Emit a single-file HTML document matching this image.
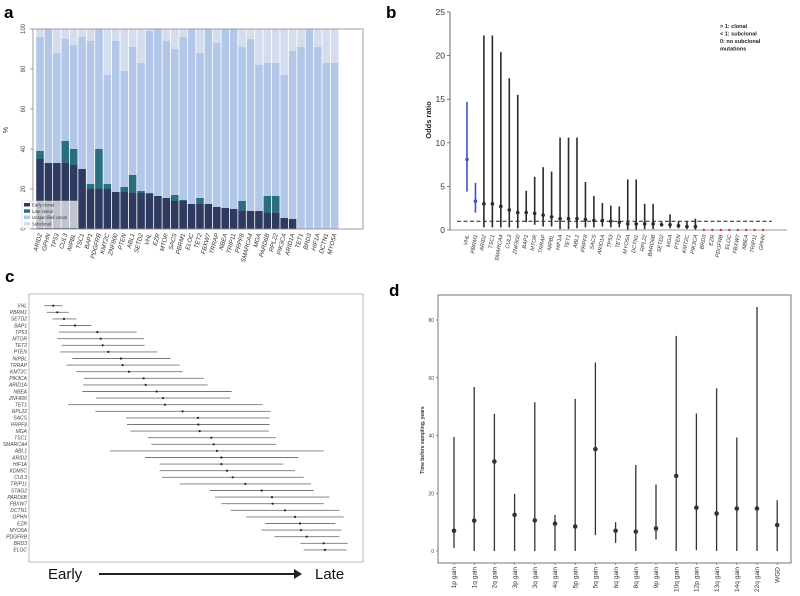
<!DOCTYPE html>
<html><head><meta charset="utf-8"><style>
body{margin:0;background:#fff;}
svg{display:block;font-family:"Liberation Sans",sans-serif;}
</style></head><body>
<svg id="fig" width="800" height="596" viewBox="0 0 800 596" xmlns="http://www.w3.org/2000/svg">
<text x="4" y="18" font-size="17" font-weight="bold">a</text>
<text x="386" y="18" font-size="17" font-weight="bold">b</text>
<text x="5" y="282" font-size="17" font-weight="bold">c</text>
<text x="389" y="296" font-size="17" font-weight="bold">d</text>
<g id="ga"></g>
<g id="gb"></g>
<g id="gc"></g>
<g id="gd"></g>
</svg>
<script>
// ---------- Panel a data ----------
const aGenes=["ARID2","GPHN","TP53","CUL3","NIPBL","TSC1","BAP1","PDGFRB","KMT2C","ZNF800","PTEN","ABL1","SETD2","VHL","EZR","MTOR","SACS","PBRM1","ELOC","TET2","FBXW7","TRRAP","NBEA","TRIP11","PRPF8","SMARCA4","MGA","PARD6B","RPL22","PIK3CA","ARID1A","TET1","BRD3","HIF1A","DCTN1","MYO5A"];
const aEarly=[35,33,33,33,32,30,20,20,20,18.5,18.5,18,18,17.5,16.5,15.5,14,14,12.5,12.5,12.5,11,10.5,10,9,9,9,8,8,5.5,5,0,0,0,0,0];
const aLateTop=[39,33,33,44,40,30,22.5,40,22.5,18.5,21,27,19,18,16.5,15.5,17,14.5,12.5,15.5,12.5,11,10.5,10,14,9,9,16.5,16.5,5.5,5,0,0,0,0,0];
const aUnspecTop=[96,100,88,95,92,96,94,100,77,94,79,91,83,99,100,94,90,96,100,88,100,93,100,100,91,95,82,83,83,77,89,91,100,91,83,83];
const aTicks=[0,20,40,60,80,100];
// ---------- Panel b data ----------
const bGenes=["VHL","PBRM1","ARID2","TSC1","SMARCA4","CUL3","ZNF800","BAP1","MTOR","TRRAP","NIPBL","HIF1A","TET1","ABL1","PRPF8","SACS","ARID1A","TP53","TET2","MYO5A","DCTN1","RPL22","BARD6B","SETD2","MGA","PTEN","KMT2C","PIK3CA","BRD3","EZR","PDGFRB","ELOC","FBXW7","NBEA","TRIP11","GPHN"];
const bOR=[8.1,3.3,3.0,3.0,2.7,2.3,2.0,2.0,1.9,1.7,1.5,1.3,1.3,1.3,1.2,1.1,1.1,1.0,0.9,0.7,0.7,0.7,0.7,0.6,0.6,0.5,0.4,0.4,0,0,0,0,0,0,0,0];
const bLo=[4.4,2.0,0.3,0.3,0.3,0.3,0.2,0.9,0.6,0.4,0.4,0.1,0.1,0.2,0.3,0.3,0.4,0.3,0.3,0.05,0.05,0.1,0.1,0.4,0.2,0.2,0.1,0.05,0,0,0,0,0,0,0,0];
const bHi=[14.7,5.4,22.3,22.3,20.4,17.4,15.5,4.5,6.1,7.2,6.7,10.6,10.6,10.6,5.5,3.9,3.1,2.8,2.7,5.8,5.8,3.0,3.0,0.9,1.8,1.0,1.0,1.3,0,0,0,0,0,0,0,0];
const bTicks=[0,5,10,15,20,25];
// ---------- Panel c data (relative timing units) ----------
const cGenes=["VHL","PBRM1","SETD2","BAP1","TP53","MTOR","TET2","PTEN","NIPBL","TRRAP","KMT2C","PIK3CA","ARID1A","NBEA","ZNF800","TET1","RPL22","SACS","PRPF8","MGA","TSC1","SMARCA4","ABL1","ARID2","HIF1A","KDM5C","CUL3","TRIP11","STAG2","PARD6B","FBXW7","DCTN1","GPHN","EZR","MYO5A","PDGFRB","BRD3","ELOC"];
const cLo=[133,140,157,178,177,172,185,180,217,199,229,252,250,247,288,204,286,378,381,391,444,454,330,435,479,479,486,539,629,645,664,692,739,796,784,823,901,911];
const cMid=[160,172,192,225,292,302,308,325,363,368,387,431,437,470,489,495,548,594,595,599,634,641,651,664,664,681,698,736,785,816,818,855,885,900,903,920,971,975];
const cHi=[187,206,229,274,410,432,434,472,512,539,548,611,623,695,691,788,812,809,809,807,827,829,971,895,850,885,911,933,941,988,971,1018,1031,1006,1025,1018,1043,1040];
// ---------- Panel d data ----------
const dCats=["1p gain","1q gain","2q gain","3p gain","3q gain","4q gain","5p gain","5q gain","6q gain","8q gain","9p gain","10q gain","12p gain","13q gain","14q gain","22q gain","WGD"];
const dMid=[7,10.5,31,12.5,10.6,9.5,8.5,35.3,7,6.7,7.8,26,15,13,14.7,14.7,9];
const dLo=[1,0,0,0,0,0,0,5.5,2.8,0,4,0,0.3,0,0,0,0];
const dHi=[39.5,56.8,47.5,19.8,51.5,12.5,52.7,65.3,10,29.8,23,74.5,47.6,56.3,39.3,84.5,17.6];
const dTicks=[0,20,40,60,80];

const NS="http://www.w3.org/2000/svg";
function mk(parent,tag,attrs,text){const e=document.createElementNS(NS,tag);for(const k in attrs)e.setAttribute(k,attrs[k]);if(text!==undefined)e.textContent=text;parent.appendChild(e);return e;}

// ===== Panel a =====
(function(){
const g=document.getElementById('ga');
const x0=33,x1=363,yTop=29,yBot=229;
const y=v=>yBot-(v/100)*(yBot-yTop);
const step=8.42,first=40,bw=7.6;
const xc=i=>first+i*step;
aGenes.forEach((gn,i)=>{
  const cx=xc(i);
  let r=mk(g,'rect',{x:cx-bw/2,y:y(100),width:bw,height:y(aUnspecTop[i])-y(100),fill:'#d4ddee'});
  
  r=mk(g,'rect',{x:cx-bw/2,y:y(aUnspecTop[i]),width:bw,height:y(aLateTop[i])-y(aUnspecTop[i]),fill:'#b3c7e8'});
  
  r=mk(g,'rect',{x:cx-bw/2,y:y(aLateTop[i]),width:bw,height:y(aEarly[i])-y(aLateTop[i]),fill:'#2b6e7d'});
  
  r=mk(g,'rect',{x:cx-bw/2,y:y(aEarly[i]),width:bw,height:yBot-y(aEarly[i]),fill:'#2e3a5f'});
  
  const t=mk(g,'text',{x:0,y:0,'font-size':6.2,'font-style':'italic','text-anchor':'end',fill:'#333',transform:`translate(${cx+2},${yBot+5}) rotate(-75)`},gn);
  
});
const fr=mk(g,'rect',{x:x0,y:yTop,width:x1-x0,height:yBot-yTop,fill:'none',stroke:'#888','stroke-width':0.8});

aTicks.forEach(v=>{
  mk(g,'line',{x1:x0-3,x2:x0,y1:y(v),y2:y(v),stroke:'#666','stroke-width':0.6});
  const t=mk(g,'text',{x:0,y:0,'font-size':6,'text-anchor':'middle',fill:'#444',transform:`translate(${x0-8},${y(v)}) rotate(-90)`},String(v));
  
});
const yl=mk(g,'text',{x:0,y:0,'font-size':7,'text-anchor':'middle',fill:'#333',transform:`translate(8,130) rotate(-90)`},'%');

const lg=mk(g,'g',{});

mk(lg,'rect',{x:22,y:201,width:56,height:27,fill:'#fff','fill-opacity':0.7,stroke:'#ccc','stroke-width':0.5});
const lcol=['#2e3a5f','#2b6e7d','#b3c7e8','#d4ddee'],ltx=['Early clonal','Late clonal','Unspecified clonal','Subclonal'];
ltx.forEach((s,i)=>{
  mk(lg,'rect',{x:24,y:203+i*6.3,width:6,height:3.5,fill:lcol[i]});
  const t=mk(lg,'text',{x:32,y:206.5+i*6.3,'font-size':4.3,fill:'#333'},s);
  
});
})();

// ===== Panel b =====
(function(){
const g=document.getElementById('gb');
const ax=450,yTop=12,yBot=230;
const y=v=>yBot-(v/25)*(yBot-yTop);
const xc=i=>467+i*8.46;
mk(g,'line',{x1:ax,x2:ax,y1:yTop,y2:yBot,stroke:'#444','stroke-width':0.8});
mk(g,'line',{x1:ax,x2:787,y1:yBot,y2:yBot,stroke:'#999','stroke-width':1});
bTicks.forEach(v=>{
  mk(g,'line',{x1:ax-3,x2:ax,y1:y(v),y2:y(v),stroke:'#444','stroke-width':0.7});
  const t=mk(g,'text',{x:ax-5,y:y(v)+3,'font-size':8.5,'text-anchor':'end',fill:'#333'},String(v));
  
});
const yl=mk(g,'text',{x:0,y:0,'font-size':7.5,'font-weight':'bold','text-anchor':'middle',fill:'#222',transform:`translate(431,120) rotate(-90)`},'Odds ratio');

const dl=mk(g,'line',{x1:457,x2:772,y1:y(1),y2:y(1),stroke:'#222','stroke-width':1,'stroke-dasharray':'4,2.5'});

bGenes.forEach((gn,i)=>{
  const cx=xc(i);
  const col=i<2?'#3656c0':'#2a2a2a';
  if(bHi[i]>0){
    const l=mk(g,'line',{x1:cx,x2:cx,y1:y(bLo[i]),y2:y(bHi[i]),stroke:col,'stroke-width':1.6});
    
    const c=mk(g,'circle',{cx:cx,cy:y(bOR[i]),r:1.8,fill:col});
    
  } else {
    const c=mk(g,'circle',{cx:cx,cy:y(0),r:1.2,fill:'#e0302a'});
    
  }
  const t=mk(g,'text',{x:0,y:0,'font-size':5.5,'font-style':'italic','text-anchor':'end',fill:'#333',transform:`translate(${cx+2},${yBot+5}) rotate(-80)`},gn);
  
});
const lt=['> 1: clonal','< 1: subclonal','0: no subclonal','    mutations'];
lt.forEach((s,i)=>{
  const t=mk(g,'text',{x:720,y:28+i*7.5,'font-size':5.5,'font-weight':'bold',fill:'#222','xml:space':'preserve'},s);
  
});
})();

// ===== Panel c =====
(function(){
const g=document.getElementById('gc');
const fr=mk(g,'rect',{x:29,y:294,width:334,height:268,fill:'none',stroke:'#aaa','stroke-width':0.8});

const x=v=>v/3;
const yr=i=>305.7+i*6.6;
cGenes.forEach((gn,i)=>{
  const l=mk(g,'line',{x1:x(cLo[i]),x2:x(cHi[i]),y1:yr(i),y2:yr(i),stroke:'#777','stroke-width':0.9});
  
  const c=mk(g,'circle',{cx:x(cMid[i]),cy:yr(i),r:1.1,fill:'#222'});
  
  const t=mk(g,'text',{x:27,y:yr(i)+1.8,'font-size':5,'font-style':'italic','text-anchor':'end',fill:'#444'},gn);
  
});
let t=mk(g,'text',{x:48,y:579,'font-size':15,fill:'#111'},'Early');

t=mk(g,'text',{x:315,y:579,'font-size':15,fill:'#111'},'Late');

const ar=mk(g,'g',{});

mk(ar,'line',{x1:99,x2:296,y1:574,y2:574,stroke:'#222','stroke-width':2});
mk(ar,'polygon',{points:'294,569 302,574 294,579',fill:'#222'});
})();

// ===== Panel d =====
(function(){
const g=document.getElementById('gd');
const x0=438,x1=791,yTop=295,yBot=563;
const y=v=>551-(v/80)*(551-320);
const xc=i=>454+i*20.2;
const fr=mk(g,'rect',{x:x0,y:yTop,width:x1-x0,height:yBot-yTop,fill:'none',stroke:'#555','stroke-width':0.8});

dTicks.forEach(v=>{
  mk(g,'line',{x1:x0-2,x2:x0,y1:y(v),y2:y(v),stroke:'#555','stroke-width':0.6});
  const t=mk(g,'text',{x:x0-4,y:y(v)+2,'font-size':5,'text-anchor':'end',fill:'#444'},String(v));
  
});
const yl=mk(g,'text',{x:0,y:0,'font-size':5,'font-weight':'bold','text-anchor':'middle',fill:'#333',transform:`translate(424,440) rotate(-90)`},'Time before sampling, years');

dCats.forEach((c,i)=>{
  const cx=xc(i);
  mk(g,'line',{x1:cx,x2:cx,y1:yBot,y2:yBot+2,stroke:'#555','stroke-width':0.6});
  const l=mk(g,'line',{x1:cx,x2:cx,y1:y(dLo[i]),y2:y(dHi[i]),stroke:'#333','stroke-width':1.3});
  
  const p=mk(g,'circle',{cx:cx,cy:y(dMid[i]),r:2.3,fill:'#333'});
  
  const t=mk(g,'text',{x:0,y:0,'font-size':6.5,'text-anchor':'end',fill:'#333',transform:`translate(${cx+2.2},${yBot+4}) rotate(-90)`},c);
  
});
})();
</script>
</body></html>
